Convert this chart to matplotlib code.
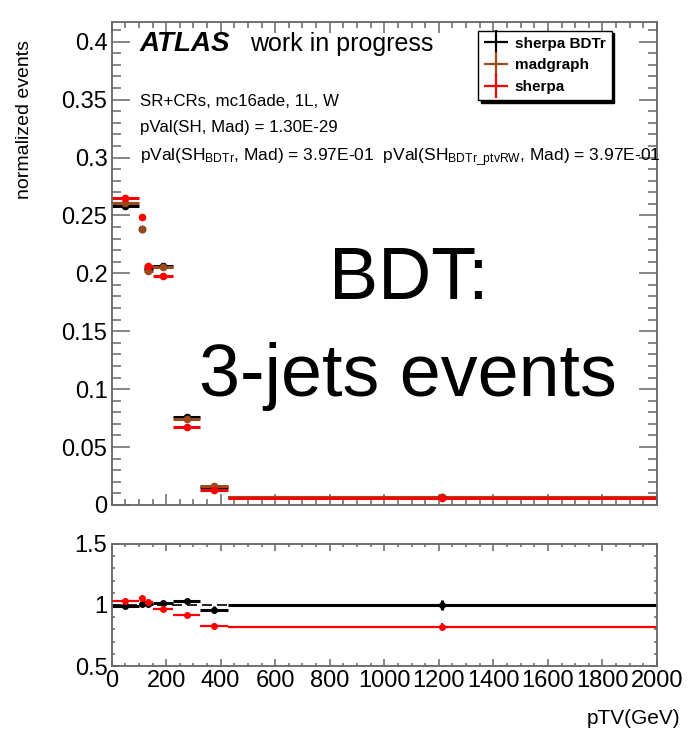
import numpy as np
import matplotlib
matplotlib.use("Agg")
import matplotlib.pyplot as plt
from matplotlib.lines import Line2D
from matplotlib.ticker import MultipleLocator

plt.rcParams['font.family'] = ['Liberation Sans', 'DejaVu Sans']
plt.rcParams['mathtext.fontset'] = 'custom'
plt.rcParams['mathtext.rm'] = 'Liberation Sans'
plt.rcParams['mathtext.it'] = 'Liberation Sans:italic'

# pTV binning (GeV)
bin_edges = [0, 100, 120, 150, 225, 325, 425, 2000]

# normalized distributions
sherpa_bdtr = [0.2584, 0.2385, 0.2035, 0.2063, 0.0761, 0.0155, 0.0072]
madgraph = [0.2606, 0.2380, 0.2023, 0.2055, 0.0739, 0.0160, 0.0072]
sherpa = [0.2647, 0.2490, 0.2060, 0.1974, 0.0675, 0.0133, 0.0060]
stat_err = [0.0015, 0.0015, 0.0015, 0.0015, 0.0012, 0.0008, 0.0004]

# ratios to madgraph
ratio_bdtr = [0.995, 1.008, 1.008, 1.016, 1.030, 0.963, 1.000]
ratio_bdtr_err = [0.008, 0.010, 0.010, 0.010, 0.015, 0.030, 0.045]
ratio_sherpa = [1.032, 1.054, 1.022, 0.965, 0.916, 0.830, 0.822]
ratio_sherpa_err = [0.008, 0.010, 0.010, 0.010, 0.012, 0.020, 0.030]

labels = ['sherpa BDTr', 'madgraph', 'sherpa']
colors = ['black', '#9a4a1c', '#ff0000']

edges = np.array(bin_edges, dtype=float)
centers = 0.5 * (edges[1:] + edges[:-1])
halfw = 0.5 * (edges[1:] - edges[:-1])

fig = plt.figure(figsize=(6.89, 7.36), dpi=100)
ax = fig.add_axes([0.162, 0.3139, 0.7915, 0.6562])
ax2 = fig.add_axes([0.162, 0.0951, 0.7915, 0.1658])

frame_col = '#666666'


def style_axes(a, xmaj, xmin, ymaj, ymin, ylen, xlen):
    for s in a.spines.values():
        s.set_color(frame_col)
        s.set_linewidth(1.3)
    a.xaxis.set_major_locator(MultipleLocator(xmaj))
    a.xaxis.set_minor_locator(MultipleLocator(xmin))
    a.yaxis.set_major_locator(MultipleLocator(ymaj))
    a.yaxis.set_minor_locator(MultipleLocator(ymin))
    a.tick_params(axis='both', which='both', direction='in', top=True, right=True,
                  color=frame_col, width=1.1, labelsize=17, pad=3)
    a.tick_params(axis='y', which='major', length=ylen)
    a.tick_params(axis='y', which='minor', length=ylen * 0.5)
    a.tick_params(axis='x', which='major', length=xlen)
    a.tick_params(axis='x', which='minor', length=xlen * 0.5)


# top panel
for vals, c in zip([sherpa_bdtr, madgraph, sherpa], colors):
    ax.errorbar(centers, vals, xerr=halfw, yerr=stat_err, fmt='o', color=c,
                ms=4.5, elinewidth=2.2, capsize=0)
ax.set_xlim(0, 2000)
ax.set_ylim(0, 0.417)
style_axes(ax, 200, 50, 0.05, 0.01, 13, 8)
ax.tick_params(axis='x', labelbottom=False)
ax.set_yticks([0, 0.05, 0.1, 0.15, 0.2, 0.25, 0.3, 0.35, 0.4])
ax.set_yticklabels(['0', '0.05', '0.1', '0.15', '0.2', '0.25', '0.3', '0.35', '0.4'])

fig.text(0.035, 0.946, 'normalized events', rotation=90, ha='center', va='top', fontsize=14)

ax.text(0.052, 0.954, 'ATLAS', transform=ax.transAxes, fontsize=20,
        fontweight='bold', style='italic', va='center')
ax.text(0.254, 0.954, 'work in progress', transform=ax.transAxes, fontsize=18, va='center')
ax.text(0.052, 0.836, 'SR+CRs, mc16ade, 1L, W', transform=ax.transAxes, fontsize=12.2, va='center')
ax.text(0.052, 0.781, 'pVal(SH, Mad) = 1.30E-29', transform=ax.transAxes, fontsize=12.2, va='center')
ax.text(0.052, 0.720,
        r'pVal(SH$_{\mathrm{BDTr}}$, Mad) = 3.97E-01  pVal(SH$_{\mathrm{BDTr\_ptvRW}}$, Mad) = 3.97E-01',
        transform=ax.transAxes, fontsize=12.5, va='center')

handles = [Line2D([], [], color=c, marker='+', ms=17, mew=1.6, ls='None') for c in colors]
leg = ax.legend(handles, labels, loc='upper left', bbox_to_anchor=(0.672, 0.982),
                frameon=True, fancybox=False, shadow={'color': 'black', 'alpha': 1.0},
                edgecolor='black', prop={'weight': 'bold', 'size': 11},
                handlelength=1.6, handletextpad=0.4, borderpad=0.4, labelspacing=0.5,
                borderaxespad=0)
leg.get_frame().set_linewidth(1.0)

fig.text(0.593, 0.620, 'BDT:', fontsize=53, ha='center', va='center')
fig.text(0.592, 0.489, '3-jets events', fontsize=53, ha='center', va='center')

# ratio panel
ax2.axhline(1.0, color='black', ls='--', lw=1.2, dashes=(6, 3))
ax2.errorbar(centers, ratio_bdtr, xerr=halfw, yerr=ratio_bdtr_err, fmt='o', color='black',
             ms=4, elinewidth=2.2, capsize=0)
ax2.errorbar(centers, ratio_sherpa, xerr=halfw, yerr=ratio_sherpa_err, fmt='o', color='#ff0000',
             ms=4, elinewidth=1.6, capsize=0)
ax2.set_xlim(0, 2000)
ax2.set_ylim(0.5, 1.5)
style_axes(ax2, 200, 50, 0.5, 0.1, 5, 5)
ax2.set_yticks([0.5, 1.0, 1.5])
ax2.set_yticklabels(['0.5', '1', '1.5'])
ax2.tick_params(axis='x', pad=3)

fig.text(0.988, 0.024, 'pTV(GeV)', ha='right', va='center', fontsize=15)

fig.savefig('out.png', dpi=100)
